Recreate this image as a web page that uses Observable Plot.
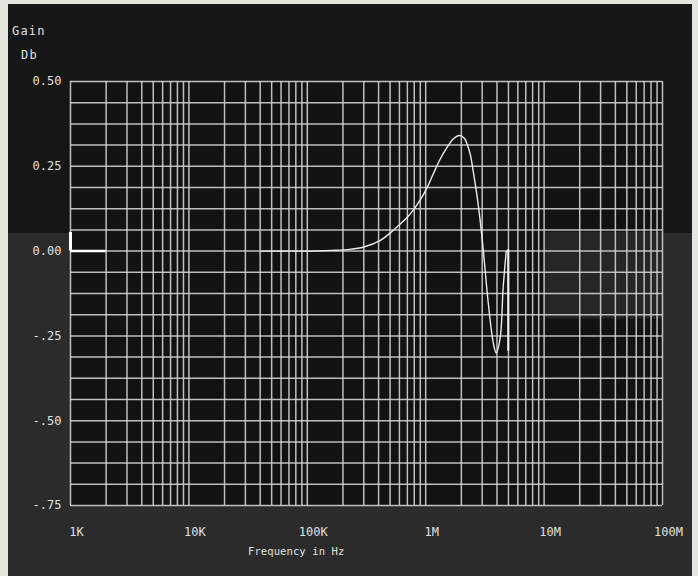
<!DOCTYPE html>
<html>
<head>
<meta charset="utf-8">
<script src="https://cdn.jsdelivr.net/npm/d3@7"></script>
<script src="https://cdn.jsdelivr.net/npm/@observablehq/plot@0.6"></script>
<style>
  html, body { margin: 0; padding: 0; }
  body { width: 698px; height: 576px; background: #e6e4de; position: relative; overflow: hidden; }
  #screen { position: absolute; left: 8px; top: 4px; width: 684px; height: 572px;
            background: linear-gradient(to bottom, #161616 0px, #161616 229px, #2b2b2b 229px, #2b2b2b 100%); }
  #chart { position: absolute; left: 0; top: 0; }
  .lbl { position: absolute; color: #e0e0e0; font-family: "DejaVu Sans Mono", monospace; white-space: nowrap; }
</style>
</head>
<body>
<div id="screen"></div>
<div id="chart"></div>
<div class="lbl" style="left:12px; top:24px; font-size:12px; letter-spacing:1.2px;">Gain</div>
<div class="lbl" style="left:21px; top:48px; font-size:12px; letter-spacing:1.2px;">Db</div>
<div class="lbl" style="left:248px; top:545px; font-size:10.5px; letter-spacing:0.1px;">Frequency in Hz</div>
<script>
// Measured gain response (frequency in Hz, gain in dB)
const freqHz = [40e3, 60e3, 100e3, 160e3, 229e3, 300e3, 411e3, 500e3, 600e3, 700e3, 782e3, 897e3,
                1.03e6, 1.16e6, 1.32e6, 1.51e6, 1.70e6, 1.92e6, 2.12e6, 2.24e6, 2.38e6, 2.52e6,
                2.72e6, 2.88e6, 3.06e6, 3.37e6, 3.72e6, 3.94e6, 4.26e6, 4.51e6, 4.79e6];
const gainDb = [0.000, 0.000, 0.000, 0.002, 0.005, 0.012, 0.031, 0.053, 0.078, 0.100, 0.120, 0.150,
                0.188, 0.228, 0.270, 0.305, 0.330, 0.341, 0.333, 0.315, 0.285, 0.235,
                0.160, 0.092, 0.005, -0.150, -0.270, -0.300, -0.255, -0.108, 0.000];

// Trace retrace at end of sweep
const retraceFreq = [4.98e6];
const retraceTop = [0.005];
const retraceBottom = [-0.295];

// Axis ticks
const xTickValues = [1e3, 1e4, 1e5, 1e6, 1e7, 1e8];
const xTickLabels = ["1K", "10K", "100K", "1M", "10M", "100M"];
const yTickValues = [0.5, 0.25, 0, -0.25, -0.5, -0.75];
const yTickLabels = ["0.50", "0.25", "0.00", "-.25", "-.50", "-.75"];

// Graticule: log divisions per decade, amplitude divisions
const decades = [1e3, 1e4, 1e5, 1e6, 1e7];
const multipliers = [1, 2, 3, 4, 5, 6, 7, 8, 9];
const xGrid = decades.flatMap(d => multipliers.map(m => d * m)).concat([1e8]);
const yGrid = d3.range(0, 21).map(i => -0.75 + i * 0.0625);

// Markers on the screen
const cursorFreq = [40e3];
const glare = [{x1: 1e7, x2: 1e8, y1: 0.055, y2: -0.2}];

const data = freqHz.map((f, i) => ({f, g: gainDb[i]}));
const retrace = retraceFreq.map((f, i) => ({f, top: retraceTop[i], bottom: retraceBottom[i]}));

const chart = Plot.plot({
  width: 698,
  height: 576,
  marginLeft: 70,
  marginRight: 36,
  marginTop: 81,
  marginBottom: 71,
  style: { background: "transparent", color: "#e0e0e0", fontFamily: "DejaVu Sans Mono, monospace", fontSize: "12px" },
  x: { type: "log", domain: [1e3, 1e8] },
  y: { domain: [-0.75, 0.5] },
  marks: [
    Plot.frame({ fill: "#121212", stroke: null }),
    Plot.rect(glare, { x1: "x1", x2: "x2", y1: "y1", y2: "y2", fill: "#262626" }),
    Plot.ruleX(xGrid, { stroke: "#d2d2d2", strokeWidth: 1.5, strokeOpacity: 0.9 }),
    Plot.ruleY(yGrid, { stroke: "#d2d2d2", strokeWidth: 1.5, strokeOpacity: 0.9 }),
    Plot.ruleY([0], { x1: 1e3, x2: 2e3, stroke: "#ffffff", strokeWidth: 2.5 }),
    Plot.ruleX([1e3], { y1: 0, y2: 0.055, stroke: "#ffffff", strokeWidth: 3 }),
    Plot.ruleX(cursorFreq, { y1: -0.015, y2: 0.06, stroke: "#9a9a9a", strokeWidth: 2 }),
    Plot.line(data, { x: "f", y: "g", stroke: "#ececec", strokeWidth: 1.4, curve: "catmull-rom" }),
    Plot.ruleX(retrace, { x: "f", y1: "bottom", y2: "top", stroke: "#f4f4f4", strokeWidth: 2 }),
    Plot.axisX({ ticks: xTickValues, tickFormat: d => xTickLabels[xTickValues.indexOf(d)], tickSize: 0,
                 tickPadding: 22, dx: 6, label: null, fontSize: 12, style: "letter-spacing:0.6px" }),
    Plot.axisY({ ticks: yTickValues, tickFormat: d => yTickLabels[yTickValues.indexOf(d)], tickSize: 0,
                 tickPadding: 9, label: null, fontSize: 12, style: "letter-spacing:1.2px" })
  ]
});
document.getElementById("chart").appendChild(chart);
</script>
</body>
</html>
